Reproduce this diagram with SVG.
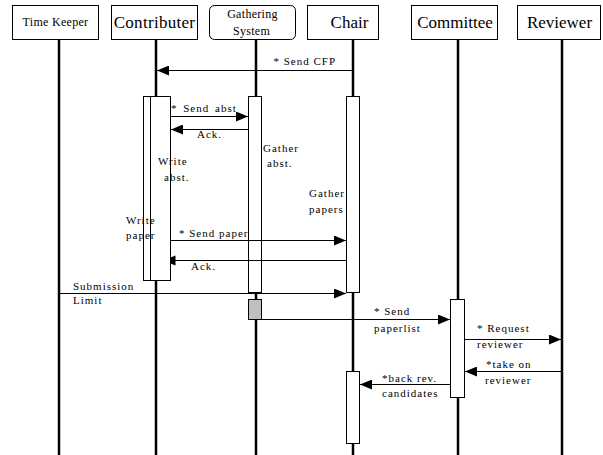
<svg xmlns="http://www.w3.org/2000/svg" width="603" height="455" viewBox="0 0 603 455" font-family="'Liberation Serif', serif">
<style>
.hd{fill:#fff;stroke:#000;stroke-width:1}
.ll{stroke:#000;stroke-width:2.5}
.act{fill:#fff;stroke:#000;stroke-width:1}
text{font-family:'Liberation Serif',serif;fill:#000}
.ht{font-size:17px;text-anchor:middle}
.hs{font-size:12px;text-anchor:middle;letter-spacing:0.3px}
.lb{font-size:11px;letter-spacing:1px}
.msg{stroke:#000;stroke-width:1;fill:none}
</style>
<defs>
<marker id="ah" markerUnits="userSpaceOnUse" markerWidth="12" markerHeight="10" refX="12" refY="5" orient="auto">
<path d="M0,0 L12,5 L0,10 z" fill="#000"/>
</marker>
</defs>
<rect width="603" height="455" fill="#fff"/>
<g id="timekeeper">
<line class="ll" x1="59" y1="39" x2="59" y2="455"/>
<rect class="hd" x="12.5" y="5.5" width="86" height="34"/>
<text class="hs" x="55.5" y="26" font-size="11.5">Time Keeper</text>
</g>
<g id="contributer">
<line class="ll" x1="156" y1="39" x2="156" y2="455"/>
<rect class="hd" x="111.5" y="5.5" width="86" height="34"/>
<text class="ht" x="154.5" y="28" letter-spacing="0.3">Contributer</text>
<rect class="act" x="143.5" y="96.5" width="27" height="184"/>
<line stroke="#000" stroke-width="1" x1="150.5" y1="96.5" x2="150.5" y2="280.5"/>
</g>
<g id="gathering">
<line class="ll" x1="256" y1="39" x2="256" y2="455"/>
<rect class="hd" x="209.5" y="5.5" width="86" height="34" rx="5"/>
<text class="hs" x="252.5" y="18">Gathering</text>
<text class="hs" x="251.5" y="35">System</text>
<rect class="act" x="248.5" y="96.5" width="13" height="196"/>
<rect x="248.5" y="299.5" width="13" height="20" fill="#c0c0c0" stroke="#000" stroke-width="1"/>
</g>
<g id="chair">
<line class="ll" x1="353" y1="39" x2="353" y2="455"/>
<rect class="hd" x="307.5" y="5.5" width="71" height="34"/>
<text class="ht" x="349.5" y="28">Chair</text>
<rect class="act" x="346.5" y="96.5" width="13" height="196"/>
<rect class="act" x="346.5" y="371.5" width="13" height="72"/>
</g>
<g id="committee">
<line class="ll" x1="458" y1="39" x2="458" y2="455"/>
<rect class="hd" x="411.5" y="5.5" width="86" height="34"/>
<text class="ht" x="455" y="28">Committee</text>
<rect class="act" x="450.5" y="299.5" width="14" height="98"/>
</g>
<g id="reviewer">
<line class="ll" x1="562" y1="39" x2="562" y2="455"/>
<rect class="hd" x="517.5" y="5.5" width="83" height="34"/>
<text class="ht" x="559.5" y="28">Reviewer</text>
</g>
<g id="connectors">
<line class="msg" x1="353" y1="70.5" x2="157" y2="70.5" marker-end="url(#ah)"/>
<text class="lb" x="336" y="65" text-anchor="end">* Send CFP</text>
<line class="msg" x1="171" y1="116.5" x2="248" y2="116.5" marker-end="url(#ah)"/>
<text class="lb" x="171" y="112" word-spacing="2">* Send abst</text>
<line class="msg" x1="248" y1="129.5" x2="171" y2="129.5" marker-end="url(#ah)"/>
<text class="lb" x="197" y="138">Ack.</text>
<text class="lb" x="263" y="152" letter-spacing="0.5">Gather</text>
<text class="lb" x="267" y="167" letter-spacing="0.5">abst.</text>
<text class="lb" x="158" y="165" letter-spacing="0.5">Write</text>
<text class="lb" x="164" y="180.5" letter-spacing="0.5">abst.</text>
<text class="lb" x="309" y="197" letter-spacing="0.5">Gather</text>
<text class="lb" x="309" y="213" letter-spacing="0.8">papers</text>
<text class="lb" x="126" y="224" letter-spacing="0.5">Write</text>
<text class="lb" x="126" y="239" letter-spacing="0.8">paper</text>
<line class="msg" x1="171" y1="240.5" x2="346" y2="240.5" marker-end="url(#ah)"/>
<text class="lb" x="179" y="236.5">* Send paper</text>
<line class="msg" x1="346" y1="260.5" x2="171" y2="260.5"/>
<polygon points="170.5,257.6 175.5,255.5 175.5,265.5 170.5,263.4" fill="#000"/>
<text class="lb" x="191" y="270">Ack.</text>
<line class="msg" x1="59" y1="293.5" x2="346" y2="293.5" marker-end="url(#ah)"/>
<text class="lb" x="73" y="290" letter-spacing="0.8">Submission</text>
<text class="lb" x="73" y="304">Limit</text>
<line class="msg" x1="262" y1="319.5" x2="450" y2="319.5" marker-end="url(#ah)"/>
<text class="lb" x="374" y="315">* Send</text>
<text class="lb" x="374" y="331.5" letter-spacing="0.6">paperlist</text>
<line class="msg" x1="465" y1="339.5" x2="561" y2="339.5" marker-end="url(#ah)"/>
<text class="lb" x="477" y="331.5">* Request</text>
<text class="lb" x="477" y="347.5" letter-spacing="0.8">reviewer</text>
<line class="msg" x1="562" y1="371.5" x2="465" y2="371.5" marker-end="url(#ah)"/>
<text class="lb" x="486" y="367.5">*take on</text>
<text class="lb" x="485" y="383.5">reviewer</text>
<line class="msg" x1="450" y1="384.5" x2="360" y2="384.5" marker-end="url(#ah)"/>
<text class="lb" x="382" y="381.5">*back rev.</text>
<text class="lb" x="382" y="397" letter-spacing="0.8">candidates</text>
</g>
</svg>
